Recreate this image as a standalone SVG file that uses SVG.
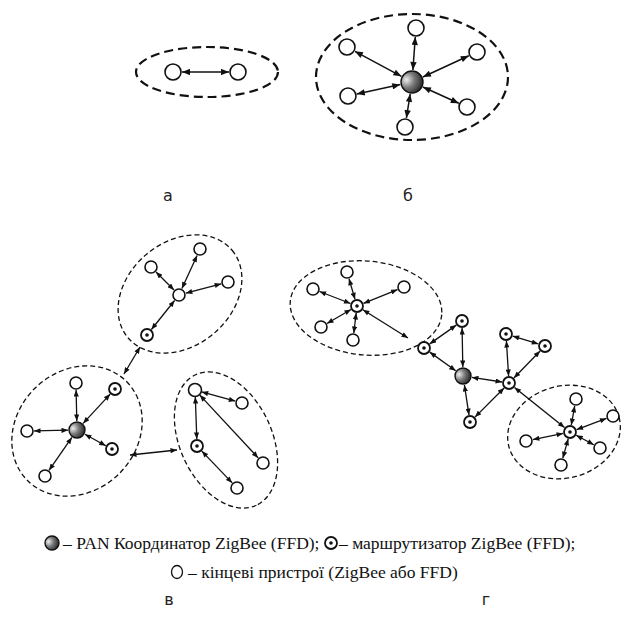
<svg xmlns="http://www.w3.org/2000/svg" width="627" height="639" viewBox="0 0 627 639">
<style>
.bg{fill:#fff}
.grp{fill:none;stroke:#111;stroke-dasharray:5 3;stroke-width:1.3}
.grpb{fill:none;stroke:#111;stroke-dasharray:9 5;stroke-width:2.2}
.end{fill:#fff;stroke:#111;stroke-width:1.6}
.rt{fill:#fff;stroke:#111;stroke-width:1.8}
.dot{fill:#111}
.crd{fill:url(#sph);stroke:#111;stroke-width:1.4}
.c{stroke:#111;stroke-width:1.3;fill:none;marker-start:url(#ah);marker-end:url(#ah)}
.cb{stroke:#111;stroke-width:1.5;fill:none;marker-start:url(#ahb);marker-end:url(#ahb)}
.lbl{font-family:"DejaVu Sans",sans-serif;font-size:16px;fill:#222;text-anchor:middle}
.leg{font-family:"Liberation Serif","Times New Roman",serif;font-size:17.5px;fill:#111}
</style>
<defs>
<radialGradient id="sph" cx="0.25" cy="0.4" r="0.8">
<stop offset="0" stop-color="#eeeeee"/>
<stop offset="0.45" stop-color="#7a7a7a"/>
<stop offset="1" stop-color="#1e1e1e"/>
</radialGradient>
<marker id="ah" viewBox="0 0 10 8" refX="10" refY="4" markerWidth="7" markerHeight="5.2" markerUnits="userSpaceOnUse" orient="auto-start-reverse"><path d="M0,0 L10,4 L0,8 z" fill="#111"/></marker>
<marker id="ahb" viewBox="0 0 10 8" refX="10" refY="4" markerWidth="9" markerHeight="6.4" markerUnits="userSpaceOnUse" orient="auto-start-reverse"><path d="M0,0 L10,4 L0,8 z" fill="#111"/></marker>
</defs>
<rect class="bg" x="0" y="0" width="627" height="639"/>

<g id="groups">
<ellipse class="grpb" cx="207" cy="72" rx="71" ry="25"/>
<ellipse class="grpb" cx="412" cy="77" rx="96" ry="63"/>
<ellipse class="grp" cx="180" cy="294" rx="68" ry="52" transform="rotate(-40 180 294)"/>
<ellipse class="grp" cx="77" cy="431" rx="70" ry="60" transform="rotate(-45 77 431)"/>
<ellipse class="grp" cx="226" cy="440" rx="72" ry="46" transform="rotate(65 226 440)"/>
<ellipse class="grp" cx="366" cy="308" rx="76" ry="47" transform="rotate(5 366 308)"/>
<ellipse class="grp" cx="564" cy="432" rx="57" ry="46" transform="rotate(-15 564 432)"/>
</g>

<g id="connectors">
<line class="cb" x1="182" y1="72" x2="229" y2="72"/>
<line class="cb" x1="412.9" y1="70" x2="415.3" y2="37"/>
<line class="cb" x1="401.4" y1="76.3" x2="354.9" y2="51.3"/>
<line class="cb" x1="422.9" y1="77" x2="468.8" y2="55.8"/>
<line class="cb" x1="400.3" y1="84.6" x2="356.8" y2="94.1"/>
<line class="cb" x1="422.9" y1="87" x2="458.8" y2="103.3"/>
<line class="cb" x1="410.2" y1="93.9" x2="406.4" y2="118.1"/>

<line class="c" x1="181.9" y1="288.6" x2="197.1" y2="255.4"/>
<line class="c" x1="174" y1="290" x2="156" y2="272"/>
<line class="c" x1="185.8" y1="293.2" x2="221.2" y2="283.8"/>
<line class="c" x1="174.6" y1="300.5" x2="151.4" y2="329.5"/>
<line class="c" x1="140" y1="347" x2="124" y2="374"/>
<line class="c" x1="76.8" y1="421" x2="76.1" y2="390"/>
<line class="c" x1="68" y1="430.2" x2="34" y2="430.9"/>
<line class="c" x1="71.9" y1="437.4" x2="49" y2="470.3"/>
<line class="c" x1="83.1" y1="423.4" x2="110.2" y2="394.1"/>
<line class="c" x1="84.9" y1="434.3" x2="105.8" y2="445.7"/>
<line class="c" x1="130" y1="455" x2="177" y2="450"/>
<line class="c" x1="201.7" y1="391.9" x2="235.3" y2="401.1"/>
<line class="c" x1="195.3" y1="397" x2="196.8" y2="439"/>
<line class="c" x1="199.8" y1="395.1" x2="258.2" y2="457.9"/>
<line class="c" x1="201.8" y1="451.1" x2="232.2" y2="482.9"/>

<line class="c" x1="355" y1="299.3" x2="349" y2="278.7"/>
<line class="c" x1="350.5" y1="303.5" x2="319.5" y2="291.5"/>
<line class="c" x1="363.5" y1="303.4" x2="397.5" y2="289.6"/>
<line class="c" x1="351" y1="309.5" x2="327" y2="323.5"/>
<line class="c" x1="356.2" y1="313" x2="353.8" y2="333"/>
<line class="c" x1="362.9" y1="309.7" x2="408" y2="338"/>
<line class="c" x1="456.3" y1="325.1" x2="429.7" y2="343.9"/>
<line class="c" x1="462.1" y1="328" x2="462.8" y2="367"/>
<line class="c" x1="429.7" y1="352.1" x2="455.7" y2="370.8"/>
<line class="c" x1="464.4" y1="384.9" x2="469" y2="415.1"/>
<line class="c" x1="471.9" y1="377.4" x2="502.1" y2="382"/>
<line class="c" x1="475" y1="417.1" x2="504.1" y2="388"/>
<line class="c" x1="508.6" y1="376" x2="506.4" y2="341"/>
<line class="c" x1="512.7" y1="336.1" x2="538.3" y2="343.9"/>
<line class="c" x1="513.9" y1="378" x2="540.1" y2="351"/>
<line class="c" x1="514.5" y1="387.4" x2="564.5" y2="427.6"/>
<line class="c" x1="571.3" y1="425.1" x2="574.7" y2="405.9"/>
<line class="c" x1="576.6" y1="429.6" x2="606.4" y2="418.4"/>
<line class="c" x1="563.1" y1="433.4" x2="532.9" y2="439.6"/>
<line class="c" x1="576.2" y1="435.3" x2="593.8" y2="444.7"/>
<line class="c" x1="568.2" y1="438.8" x2="562.8" y2="458.2"/>
</g>

<g id="a-n1"><circle class="end" cx="173" cy="72" r="8"/></g>
<g id="a-n2"><circle class="end" cx="238" cy="72" r="8"/></g>

<g id="b-coord"><circle class="crd" cx="412" cy="82" r="11"/></g>
<g id="b-e1"><circle class="end" cx="416" cy="28" r="8"/></g>
<g id="b-e2"><circle class="end" cx="347" cy="47" r="8"/></g>
<g id="b-e3"><circle class="end" cx="477" cy="52" r="8"/></g>
<g id="b-e4"><circle class="end" cx="348" cy="96" r="8"/></g>
<g id="b-e5"><circle class="end" cx="467" cy="107" r="8"/></g>
<g id="b-e6"><circle class="end" cx="405" cy="127" r="8"/></g>

<g id="v-t-hub"><circle class="end" cx="179" cy="295" r="6"/></g>
<g id="v-t-e1"><circle class="end" cx="200" cy="249" r="6"/></g>
<g id="v-t-e2"><circle class="end" cx="151" cy="267" r="6"/></g>
<g id="v-t-e3"><circle class="end" cx="228" cy="282" r="6"/></g>
<g id="v-t-r"><circle class="rt" cx="147" cy="335" r="6"/><circle class="dot" cx="147" cy="335" r="1.8"/></g>

<g id="v-l-coord"><circle class="crd" cx="77" cy="430" r="8"/></g>
<g id="v-l-e1"><circle class="end" cx="76" cy="383" r="6"/></g>
<g id="v-l-e2"><circle class="end" cx="27" cy="431" r="6"/></g>
<g id="v-l-e3"><circle class="end" cx="45" cy="476" r="6"/></g>
<g id="v-l-r1"><circle class="rt" cx="115" cy="389" r="6"/><circle class="dot" cx="115" cy="389" r="1.8"/></g>
<g id="v-l-r2"><circle class="rt" cx="112" cy="449" r="6"/><circle class="dot" cx="112" cy="449" r="1.8"/></g>

<g id="v-r-e1"><circle class="end" cx="195" cy="390" r="6.5"/></g>
<g id="v-r-e2"><circle class="end" cx="242" cy="403" r="6"/></g>
<g id="v-r-r"><circle class="rt" cx="197" cy="446" r="6"/><circle class="dot" cx="197" cy="446" r="1.8"/></g>
<g id="v-r-e3"><circle class="end" cx="263" cy="463" r="6"/></g>
<g id="v-r-e4"><circle class="end" cx="237" cy="488" r="6"/></g>

<g id="g-tl-hub"><circle class="rt" cx="357" cy="306" r="6"/><circle class="dot" cx="357" cy="306" r="1.8"/></g>
<g id="g-tl-e1"><circle class="end" cx="347" cy="272" r="6"/></g>
<g id="g-tl-e2"><circle class="end" cx="313" cy="289" r="6"/></g>
<g id="g-tl-e3"><circle class="end" cx="404" cy="287" r="6"/></g>
<g id="g-tl-e4"><circle class="end" cx="321" cy="327" r="6"/></g>
<g id="g-tl-e5"><circle class="end" cx="353" cy="340" r="6"/></g>

<g id="g-r1"><circle class="rt" cx="462" cy="321" r="6"/><circle class="dot" cx="462" cy="321" r="1.8"/></g>
<g id="g-r2"><circle class="rt" cx="424" cy="348" r="6"/><circle class="dot" cx="424" cy="348" r="1.8"/></g>
<g id="g-coord"><circle class="crd" cx="463" cy="376" r="8"/></g>
<g id="g-r3"><circle class="rt" cx="470" cy="422" r="6"/><circle class="dot" cx="470" cy="422" r="1.8"/></g>
<g id="g-r4"><circle class="rt" cx="509" cy="383" r="6"/><circle class="dot" cx="509" cy="383" r="1.8"/></g>
<g id="g-r5"><circle class="rt" cx="506" cy="334" r="6"/><circle class="dot" cx="506" cy="334" r="1.8"/></g>
<g id="g-r6"><circle class="rt" cx="545" cy="346" r="6"/><circle class="dot" cx="545" cy="346" r="1.8"/></g>

<g id="g-br-hub"><circle class="rt" cx="570" cy="432" r="6"/><circle class="dot" cx="570" cy="432" r="1.8"/></g>
<g id="g-br-e1"><circle class="end" cx="576" cy="399" r="6"/></g>
<g id="g-br-e2"><circle class="end" cx="613" cy="416" r="6"/></g>
<g id="g-br-e3"><circle class="end" cx="526" cy="441" r="6"/></g>
<g id="g-br-e4"><circle class="end" cx="600" cy="448" r="6"/></g>
<g id="g-br-e5"><circle class="end" cx="561" cy="465" r="6"/></g>

<g id="labels">
<text class="lbl" x="168" y="201">а</text>
<text class="lbl" x="408" y="201">б</text>
<text class="lbl" x="169" y="605">в</text>
<text class="lbl" x="486" y="605">г</text>
</g>

<g id="legend">
<circle class="crd" cx="52" cy="543" r="7"/>
<text class="leg" x="63" y="549">– PAN Координатор ZigBee (FFD);</text>
<circle class="rt" cx="331" cy="543" r="6"/><circle class="dot" cx="331" cy="543" r="1.8"/>
<text class="leg" x="339" y="549">– маршрутизатор ZigBee (FFD);</text>
<ellipse cx="177" cy="572" rx="5.5" ry="6.5" fill="none" stroke="#111" stroke-width="1.3"/>
<text class="leg" x="188" y="578">– кінцеві пристрої (ZigBee або FFD)</text>
</g>
</svg>
